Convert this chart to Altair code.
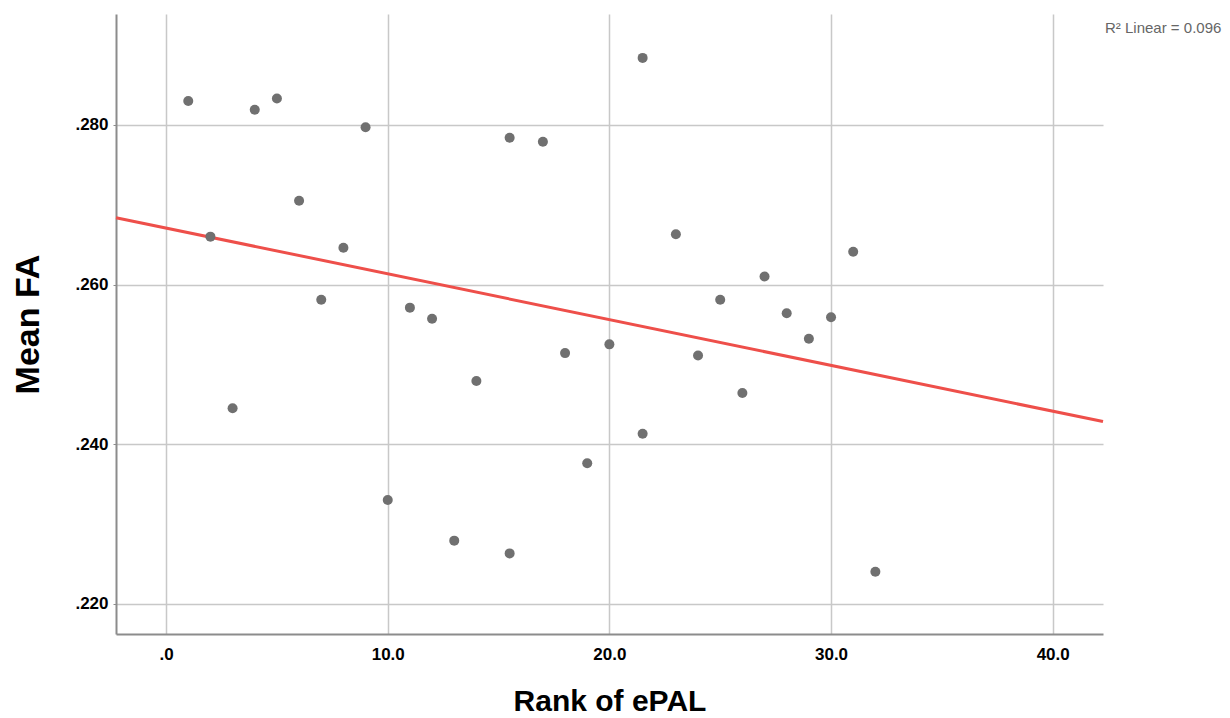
import altair as alt
import pandas as pd

rank = [1, 2, 3, 4, 5, 6, 7, 8, 9, 10, 11, 12, 13, 14, 15.5, 15.5, 17, 18, 19, 20,
        21.5, 21.5, 23, 24, 25, 26, 27, 28, 29, 30, 31, 32]
mean_fa = [0.2830, 0.2660, 0.2445, 0.2819, 0.2833, 0.2705, 0.2581, 0.2646, 0.2797, 0.2330,
           0.2571, 0.2557, 0.2279, 0.2479, 0.2784, 0.2263, 0.2779, 0.2514, 0.2376, 0.2525,
           0.2884, 0.2413, 0.2663, 0.2511, 0.2581, 0.2464, 0.2610, 0.2564, 0.2532, 0.2559,
           0.2641, 0.2240]
x_ticks = [0, 10, 20, 30, 40]
y_ticks = [0.22, 0.24, 0.26, 0.28]
x_domain = [-2.26, 42.27]
y_domain = [0.2162, 0.2939]
r2_label = ["R² Linear = 0.096"]

df = pd.DataFrame({"rank": rank, "fa": mean_fa})

FONT = "Liberation Sans"

xenc = alt.X("rank:Q", title="Rank of ePAL",
             scale=alt.Scale(domain=x_domain, nice=False, zero=False),
             axis=alt.Axis(values=x_ticks,
                           labelExpr="datum.value == 0 ? '.0' : format(datum.value, '.1f')",
                           ticks=False, labelPadding=12, titleY=67,
                           titleBaseline="middle"))
yenc = alt.Y("fa:Q", title="Mean FA",
             scale=alt.Scale(domain=y_domain, nice=False, zero=False),
             axis=alt.Axis(values=y_ticks,
                           labelExpr="substring(format(datum.value, '.3f'), 1)",
                           ticks=True, tickSize=3, labelPadding=5, titleX=-88,
                           titleBaseline="middle"))

base = alt.Chart(df)

points = base.mark_circle(size=100, color="#707070", opacity=1).encode(x=xenc, y=yenc)

line = base.transform_regression("rank", "fa", extent=x_domain).mark_line(
    color="#ee4f4a", strokeWidth=3
).encode(x="rank:Q", y="fa:Q")

label = alt.Chart(pd.DataFrame({"t": r2_label})).mark_text(
    align="left", baseline="middle", fontSize=15, color="#666666", font=FONT
).encode(text="t:N", x=alt.value(989), y=alt.value(14))

chart = alt.layer(line, points, label).properties(
    width=987, height=620,
    padding={"left": 116, "top": 14, "right": 127, "bottom": 84},
    autosize=alt.AutoSizeParams(type="none"),
    background="white",
).configure_view(stroke=None).configure_axis(
    labelFont=FONT, titleFont=FONT, labelFontSize=17, labelFontWeight="bold",
    labelColor="black", titleColor="black", titleFontWeight="bold",
    gridColor="#c8c8c8", gridWidth=1.5, domainColor="#8c8c8c", domainWidth=2,
    tickColor="#8c8c8c",
).configure_axisX(titleFontSize=30).configure_axisY(titleFontSize=34)

chart.save("out.html", embed_options={"renderer": "svg", "actions": False})
